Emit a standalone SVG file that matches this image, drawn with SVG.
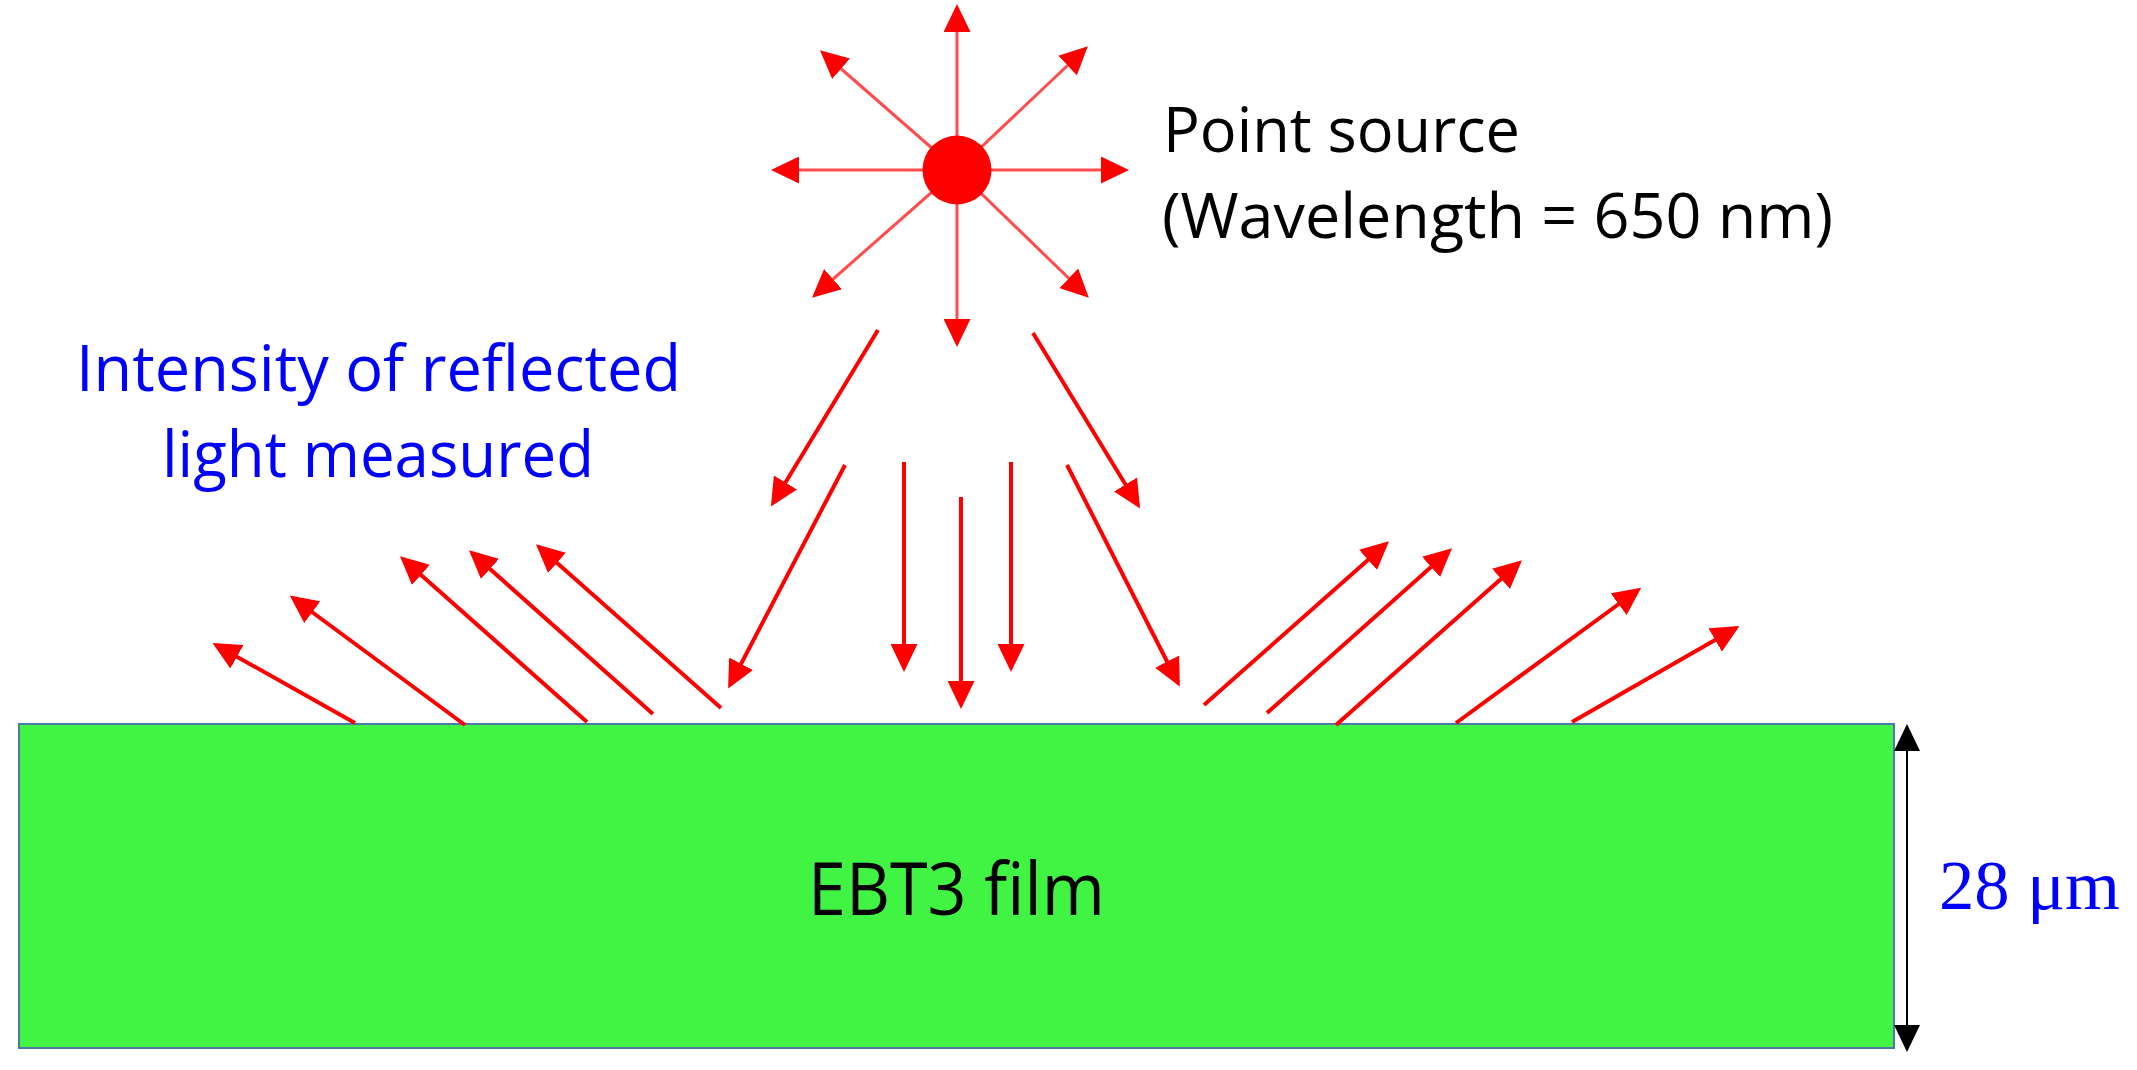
<svg xmlns="http://www.w3.org/2000/svg" width="2137" height="1070" viewBox="0 0 2137 1070">
  <style>
    .star { stroke: #ff4d4d; stroke-width: 3; fill: none; }
    .ray { stroke: #ff0000; stroke-width: 4; fill: none; }
    .dim { stroke: #000000; stroke-width: 2; fill: none; }
    .lbl { font-family: "Open Sans", "Liberation Sans", sans-serif; }
    .blue { fill: #0000ff; }
  </style>
  <defs>
    <marker id="headLight" viewBox="0 0 28 27" markerUnits="userSpaceOnUse" markerWidth="28" markerHeight="27" refX="24" refY="13.5" orient="auto">
      <path d="M0,0 L28,13.5 L0,27 Z" fill="#ff0000"/>
    </marker>
    <marker id="head" viewBox="0 0 28 27" markerUnits="userSpaceOnUse" markerWidth="28" markerHeight="27" refX="24" refY="13.5" orient="auto">
      <path d="M0,0 L28,13.5 L0,27 Z" fill="#ff0000"/>
    </marker>
    <marker id="headBlack" viewBox="0 0 27 26" markerUnits="userSpaceOnUse" markerWidth="27" markerHeight="26" refX="25" refY="13" orient="auto">
      <path d="M0,0 L27,13 L0,26 Z" fill="#000000"/>
    </marker>
  </defs>

  <rect width="2137" height="1070" fill="#ffffff"/>

  <g id="film">
    <rect x="19" y="724" width="1875" height="324" fill="#41f443" stroke="#4f7aa8" stroke-width="2"/>
    <text class="lbl" x="808" y="915" font-size="73" fill="#000000" textLength="297" lengthAdjust="spacingAndGlyphs">EBT3 film</text>
  </g>

  <g id="thickness">
    <line class="dim" x1="1907" y1="1050" x2="1907" y2="726" marker-end="url(#headBlack)"/>
    <line class="dim" x1="1907" y1="726" x2="1907" y2="1050" marker-end="url(#headBlack)"/>
    <text x="1939" y="909" font-family="'Liberation Serif', 'DejaVu Serif', serif" font-size="70" class="blue" textLength="181" lengthAdjust="spacingAndGlyphs">28 μm</text>
  </g>

  <g id="source-label">
    <text class="lbl" x="1163" y="152" font-size="63" fill="#000000" textLength="357" lengthAdjust="spacingAndGlyphs">Point source</text>
    <text class="lbl" x="1162" y="238" font-size="63" fill="#000000" textLength="671" lengthAdjust="spacingAndGlyphs">(Wavelength = 650 nm)</text>
  </g>

  <g id="reflect-label">
    <text class="lbl blue" x="76" y="391" font-size="64" textLength="605" lengthAdjust="spacingAndGlyphs">Intensity of reflected</text>
    <text class="lbl blue" x="162" y="477" font-size="64" textLength="432" lengthAdjust="spacingAndGlyphs">light measured</text>
  </g>

  <g id="connectors">
    <g id="star-rays">
      <line class="star" x1="957" y1="170" x2="957" y2="8" marker-end="url(#headLight)"/>
      <line class="star" x1="957" y1="170" x2="957" y2="343" marker-end="url(#headLight)"/>
      <line class="star" x1="957" y1="170" x2="775" y2="170" marker-end="url(#headLight)"/>
      <line class="star" x1="957" y1="170" x2="1125" y2="170" marker-end="url(#headLight)"/>
      <line class="star" x1="957" y1="170" x2="823" y2="53" marker-end="url(#headLight)"/>
      <line class="star" x1="957" y1="170" x2="1085" y2="49" marker-end="url(#headLight)"/>
      <line class="star" x1="957" y1="170" x2="815" y2="295" marker-end="url(#headLight)"/>
      <line class="star" x1="957" y1="170" x2="1086" y2="295" marker-end="url(#headLight)"/>
    </g>
    <g id="incident-rays">
      <line class="ray" x1="878" y1="330" x2="773" y2="503" marker-end="url(#head)"/>
      <line class="ray" x1="1033" y1="333" x2="1138" y2="505" marker-end="url(#head)"/>
      <line class="ray" x1="845" y1="465" x2="730" y2="685" marker-end="url(#head)"/>
      <line class="ray" x1="904" y1="462" x2="904" y2="668" marker-end="url(#head)"/>
      <line class="ray" x1="961" y1="497" x2="961" y2="705" marker-end="url(#head)"/>
      <line class="ray" x1="1011" y1="462" x2="1011" y2="668" marker-end="url(#head)"/>
      <line class="ray" x1="1067" y1="465" x2="1178" y2="683" marker-end="url(#head)"/>
    </g>
    <g id="reflected-left">
      <line class="ray" x1="355" y1="723" x2="216" y2="645" marker-end="url(#head)"/>
      <line class="ray" x1="465" y1="725" x2="293" y2="598" marker-end="url(#head)"/>
      <line class="ray" x1="587" y1="722" x2="403" y2="559" marker-end="url(#head)"/>
      <line class="ray" x1="653" y1="714" x2="472" y2="553" marker-end="url(#head)"/>
      <line class="ray" x1="721" y1="708" x2="539" y2="547" marker-end="url(#head)"/>
    </g>
    <g id="reflected-right">
      <line class="ray" x1="1204" y1="705" x2="1386" y2="544" marker-end="url(#head)"/>
      <line class="ray" x1="1267" y1="713" x2="1449" y2="551" marker-end="url(#head)"/>
      <line class="ray" x1="1336" y1="725" x2="1519" y2="563" marker-end="url(#head)"/>
      <line class="ray" x1="1456" y1="723" x2="1638" y2="590" marker-end="url(#head)"/>
      <line class="ray" x1="1572" y1="722" x2="1736" y2="628" marker-end="url(#head)"/>
    </g>
  </g>

  <g id="point-source">
    <circle cx="957" cy="170" r="34.5" fill="#ff0000"/>
  </g>
</svg>
